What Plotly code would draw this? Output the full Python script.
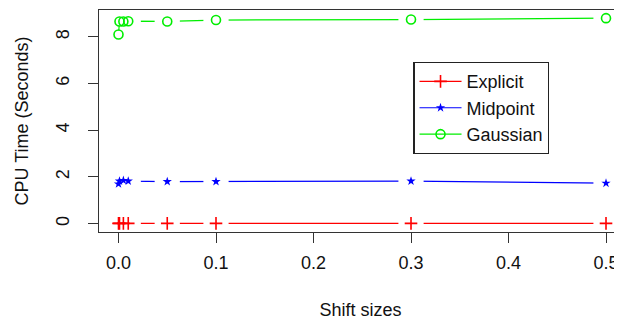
import plotly.graph_objects as go

shift_sizes = [0.0, 0.001, 0.005, 0.01, 0.05, 0.1, 0.3, 0.5]
explicit = [0.01, 0.01, 0.01, 0.01, 0.01, 0.01, 0.01, 0.01]
midpoint = [1.70, 1.82, 1.85, 1.82, 1.80, 1.80, 1.82, 1.73]
gaussian = [8.10, 8.66, 8.66, 8.67, 8.66, 8.72, 8.74, 8.80]

RED, BLUE, GREEN = "#ff0000", "#0000ff", "#00ee00"
series = [
    ("Explicit", explicit, RED, dict(symbol="cross-thin-open", size=9, color=RED, line=dict(width=1.6, color=RED))),
    ("Midpoint", midpoint, BLUE, dict(symbol="star", size=7, color=BLUE, line=dict(width=0, color=BLUE))),
    ("Gaussian", gaussian, GREEN, dict(symbol="circle-open", size=9, color=GREEN, line=dict(width=1.6, color=GREEN))),
]

fig = go.Figure()
for name, ys, col, mk in series:
    # connecting line (base axes)
    fig.add_trace(go.Scatter(x=shift_sizes, y=ys, mode="lines", line=dict(color=col, width=1.2),
                             showlegend=False, hoverinfo="skip"))
for name, ys, col, mk in series:
    # white gap around each point, R type="b" style (overlay axes, drawn above the lines)
    fig.add_trace(go.Scatter(x=shift_sizes, y=ys, mode="markers", xaxis="x2", yaxis="y2",
                             marker=dict(symbol="line-ew-open", size=18, color="white",
                                         line=dict(width=8, color="white")),
                             showlegend=False, hoverinfo="skip"))
for name, ys, col, mk in series:
    fig.add_trace(go.Scatter(x=shift_sizes, y=ys, mode="markers", xaxis="x2", yaxis="y2",
                             marker=mk, name=name, showlegend=False))
for name, ys, col, mk in series:
    # legend entry (line + symbol)
    fig.add_trace(go.Scatter(x=[None], y=[None], mode="lines+markers", line=dict(color=col, width=1.2),
                             marker=mk, name=name))

FAM = "Liberation Sans, Arial, sans-serif"
font = dict(family=FAM, size=18, color="#111")
XR = [-0.02, 0.5164]
YR = [-0.36, 9.15]
# the page body has an 8px margin, so the figure is 614x314 placed at (8, 8)
fig.update_layout(
    width=614, height=314,
    margin=dict(l=90.5, r=0, t=2, b=90),
    paper_bgcolor="white", plot_bgcolor="white",
    font=font,
    showlegend=True,
    legend=dict(x=0.601, y=0.766, xanchor="left", yanchor="top",
                bordercolor="#222", borderwidth=1.2, bgcolor="white",
                font=dict(size=18, family=FAM, color="#111"),
                itemwidth=42, tracegroupgap=0, entrywidth=98, entrywidthmode="pixels"),
    xaxis2=dict(range=XR, overlaying="x", visible=False, anchor="y2"),
    yaxis2=dict(range=YR, overlaying="y", visible=False, anchor="x2"),
)
fig.layout.xaxis.update(
    range=XR, tickvals=[0, 0.1, 0.2, 0.3, 0.4, 0.5], tickformat=".1f", automargin=False,
    showgrid=False, zeroline=False, showline=True, linecolor="#333", linewidth=1.3, mirror=True,
    ticks="outside", ticklen=10, tickcolor="#333", tickwidth=1.2, ticklabelstandoff=4,
    tickfont=dict(size=18, family=FAM, color="#111"),
    title=dict(text="Shift sizes", standoff=31, font=dict(size=18, family=FAM, color="#111")),
    layer="above traces",
)
fig.layout.yaxis.update(
    range=YR, tickvals=[0, 2, 4, 6, 8], tickangle=-90, automargin=False,
    showgrid=False, zeroline=False, showline=True, linecolor="#333", linewidth=1.3, mirror=False,
    ticks="outside", ticklen=10, tickcolor="#333", tickwidth=1.2, ticklabelstandoff=12,
    tickfont=dict(size=18, family=FAM, color="#111"),
    title=dict(text="CPU Time (Seconds)", standoff=19, font=dict(size=18, family=FAM, color="#111")),
    layer="above traces",
)

fig.write_html("out.html")
